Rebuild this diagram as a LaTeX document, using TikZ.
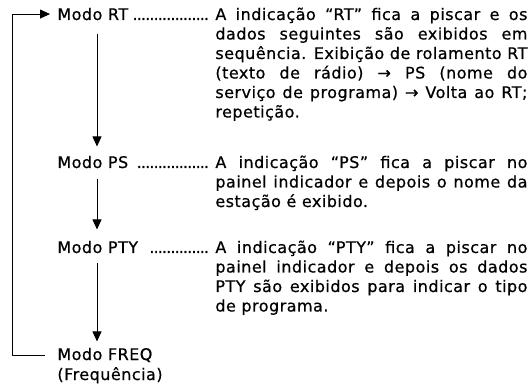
\documentclass[tikz,border=0pt]{standalone}
\usepackage{fontspec}
\setmainfont{DejaVu Sans}[LetterSpace=3.0, FakeBold=0.6]
\usetikzlibrary{arrows.meta}

\newcommand{\pontos}{\leaders\hbox to 4.2pt{\hss.\hss}\hfill}
\newcommand{\modo}[1]{\makebox[155pt][l]{#1\hspace{2pt}\pontos\hspace{3pt}}}

\tikzset{
	modo/.style={anchor=base west, inner sep=0pt},
	texto/.style={anchor=base west, inner sep=0pt, text width=312pt, align=justify},
}

\begin{document}
\begin{tikzpicture}[x=1pt, y=-1pt, line width=0.8pt, line join=round, >={Triangle[length=10pt,width=9pt]},
		font=\fontsize{16pt}{19.5pt}\selectfont]
				
				\useasboundingbox (0,0) rectangle (530,387);
				
				\node (rt) at (57,20) [modo] {\modo{Modo RT}};
				\node (ps) at (57,168) [modo] {\modo{Modo PS\ }};
				\node (pty) at (57,253) [modo] {\modo{Modo PTY\ }};
				\node (freq) at (57,360) [modo] {Modo FREQ};
				\node (freqsub) at (57,380) [modo] {(Frequência)};
				
				\node (rtd) at (215,20) [texto] {A indicação “RT” fica a piscar e os\linebreak
					dados seguintes são exibidos em\linebreak
					sequência. Exibição de rolamento RT\linebreak
					(texto de rádio) → PS (nome do\linebreak
					serviço de programa) → Volta ao RT;\linebreak
					repetição.};
				\node (psd) at (215,168) [texto] {A indicação “PS” fica a piscar no\linebreak
					painel indicador e depois o nome da\linebreak
					estação é exibido.};
				\node (ptyd) at (215,253) [texto] {A indicação “PTY” fica a piscar no\linebreak
					painel indicador e depois os dados\linebreak
					PTY são exibidos para indicar o tipo\linebreak
					de programa.};
				
				% sequencia dos modos
				\draw[->, shorten <=13pt, shorten >=9pt] ([xshift=40pt]rt.south west) -- ([xshift=40pt]ps.north west);
				\draw[->, shorten <=10pt, shorten >=11pt] ([xshift=40pt]ps.south west) -- ([xshift=40pt]pty.north west);
				\draw[->, shorten <=9pt, shorten >=6pt] ([xshift=40pt]pty.south west) -- ([xshift=40pt]freq.north west);
				
				% volta ao inicio
				\draw[->] ([xshift=-12pt]freq.west) -| ([xshift=-45pt]rt.west) -- ([xshift=-7pt]rt.west);
		\end{tikzpicture}
\end{document}
